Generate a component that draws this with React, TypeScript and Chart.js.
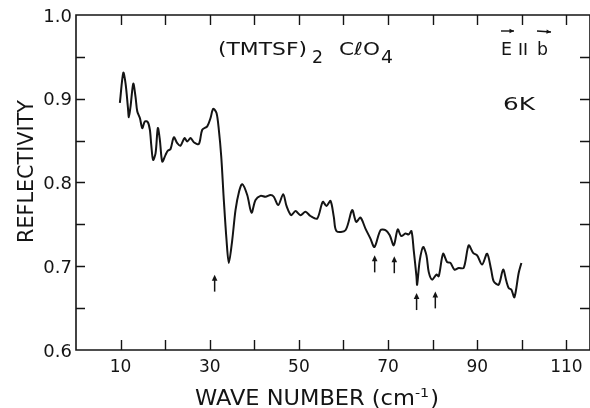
import React, { useEffect, useRef } from "react";
import { Chart, registerables } from "chart.js";

Chart.register(...registerables);

// Wave number (cm^-1)
const waveNumber = [
  9.84, 10.61, 11.12, 11.64, 11.86, 12.24, 12.85, 13.36, 13.74, 14.33,
  14.87, 15.45, 16.12, 16.57, 16.88, 17.29, 17.85, 18.36, 18.81, 19.35,
  20.09, 20.61, 21.21, 21.95, 22.71, 23.45, 24.35, 24.96, 25.7, 26.43,
  27.56, 28.32, 29.44, 30.18, 30.78, 31.52, 32.04, 32.58, 33.16, 33.77,
  34.28, 35.04, 35.78, 36.57, 37.29, 38.41, 39.37, 40.27, 41.39, 42.51,
  43.63, 44.37, 45.36, 46.48, 47.22, 48.27, 49.24, 50.36, 51.48, 52.6,
  54.1, 55.36, 56.19, 57.09, 57.83, 58.43, 60.45, 61.95, 62.85, 63.81,
  64.93, 66.05, 66.95, 68.3, 69.42, 70.38, 71.28, 72.17, 72.94, 73.9,
  74.64, 75.25, 75.76, 76.37, 76.52, 77.11, 77.87, 78.61, 79.13, 79.89,
  80.85, 81.37, 82.35, 83.25, 83.99, 84.89, 85.85, 86.97, 88.09, 89.08,
  89.98, 91.1, 92.22, 93.12, 93.7, 94.82, 95.81, 96.55, 97.06, 97.67,
  98.34, 99.3, 99.91,
];

// Reflectivity
const reflectivity = [
  0.895, 0.931, 0.918, 0.89, 0.878, 0.891, 0.918, 0.902, 0.885, 0.877,
  0.865, 0.873, 0.872, 0.863, 0.845, 0.827, 0.835, 0.865, 0.851, 0.825,
  0.833, 0.838, 0.84, 0.854, 0.847, 0.844, 0.853, 0.849, 0.853, 0.848,
  0.846, 0.863, 0.867, 0.877, 0.888, 0.883, 0.863, 0.831, 0.779, 0.731,
  0.704, 0.731, 0.767, 0.789, 0.798, 0.785, 0.764, 0.779, 0.784, 0.783,
  0.785, 0.783, 0.773, 0.786, 0.772, 0.761, 0.766, 0.761, 0.765, 0.76,
  0.757, 0.777, 0.772, 0.778, 0.759, 0.742, 0.743, 0.767, 0.753, 0.758,
  0.745, 0.733, 0.723, 0.743, 0.743, 0.737, 0.725, 0.744, 0.736, 0.739,
  0.738, 0.742, 0.719, 0.688, 0.678, 0.707, 0.723, 0.713, 0.693, 0.684,
  0.69, 0.688, 0.715, 0.705, 0.704, 0.696, 0.698, 0.698, 0.725, 0.716,
  0.713, 0.702, 0.715, 0.696, 0.682, 0.678, 0.696, 0.682, 0.674, 0.672,
  0.663, 0.692, 0.704,
];

// Arrow markers (wave number, reflectivity at arrow tip)
const arrowWaveNumber = [31.1, 67.0, 71.4, 76.4, 80.6];
const arrowTip = [0.69, 0.713, 0.712, 0.668, 0.67];

// Axis ticks
const xTickLabels = [10, 30, 50, 70, 90, 110];
const xTickMarks = [10, 20, 30, 40, 50, 60, 70, 80, 90, 100, 110];
const yTickLabels = ["0.6", "0.7", "0.8", "0.9", "1.0"];
const yTickMarks = [0.65, 0.7, 0.75, 0.8, 0.85, 0.9, 0.95];

const xTitle = "WAVE NUMBER (cm";
const xTitleSup = "-1";
const yTitle = "REFLECTIVITY";

const FONT = "'DejaVu Sans', sans-serif";
const INK = "#141414";

type Run = { t: string; size: number; dy?: number; dx?: number };

function drawRuns(ctx: CanvasRenderingContext2D, runs: Run[], x: number, y: number, width: number) {
  let natural = 0;
  const widths: number[] = [];
  for (const r of runs) {
    ctx.font = `${r.size}px ${FONT}`;
    const w = ctx.measureText(r.t).width + (r.dx || 0);
    widths.push(w);
    natural += w;
  }
  const s = width / natural;
  ctx.save();
  ctx.translate(x, y);
  ctx.scale(s, 1);
  let cx = 0;
  runs.forEach((r, i) => {
    ctx.font = `${r.size}px ${FONT}`;
    ctx.textAlign = "left";
    ctx.textBaseline = "alphabetic";
    ctx.fillText(r.t, cx + (r.dx || 0), r.dy || 0);
    cx += widths[i];
  });
  ctx.restore();
}

function drawVecArrow(ctx: CanvasRenderingContext2D, x1: number, y1: number, x2: number, y2: number) {
  ctx.beginPath();
  ctx.moveTo(x1, y1);
  ctx.lineTo(x2, y2);
  ctx.stroke();
  const a = Math.atan2(y2 - y1, x2 - x1);
  ctx.beginPath();
  ctx.moveTo(x2, y2);
  ctx.lineTo(x2 - 5 * Math.cos(a - 0.45), y2 - 5 * Math.sin(a - 0.45));
  ctx.lineTo(x2 - 5 * Math.cos(a + 0.45), y2 - 5 * Math.sin(a + 0.45));
  ctx.closePath();
  ctx.fill();
}

const decorPlugin = {
  id: "decor",
  afterDraw(chart: any) {
    const ctx: CanvasRenderingContext2D = chart.ctx;
    const xs = chart.scales.x;
    const ys = chart.scales.y;
    const { left, right, top, bottom } = chart.chartArea;
    ctx.save();
    ctx.strokeStyle = INK;
    ctx.fillStyle = INK;

    // frame
    ctx.lineWidth = 1.6;
    ctx.beginPath();
    ctx.moveTo(left, top);
    ctx.lineTo(right, top);
    ctx.lineTo(right, bottom);
    ctx.lineTo(left, bottom);
    ctx.closePath();
    ctx.stroke();

    // tick marks (inward)
    ctx.lineWidth = 1.4;
    ctx.beginPath();
    for (const v of xTickMarks) {
      const px = Math.round(xs.getPixelForValue(v)) + 0.5;
      ctx.moveTo(px, bottom);
      ctx.lineTo(px, bottom - 10);
      ctx.moveTo(px, top);
      ctx.lineTo(px, top + 10);
    }
    for (const v of yTickMarks) {
      const py = Math.round(ys.getPixelForValue(v)) + 0.5;
      ctx.moveTo(left, py);
      ctx.lineTo(left + 9, py);
      ctx.moveTo(right, py);
      ctx.lineTo(right - 10, py);
    }
    ctx.stroke();

    // tick labels
    ctx.font = `17px ${FONT}`;
    ctx.textAlign = "center";
    ctx.textBaseline = "alphabetic";
    for (const v of xTickLabels) {
      ctx.fillText(String(v), xs.getPixelForValue(v), 372);
    }
    ctx.font = `18px ${FONT}`;
    ctx.textAlign = "right";
    for (const t of yTickLabels) {
      const py = ys.getPixelForValue(parseFloat(t));
      ctx.fillText(t, 72, py + 6.5);
    }

    // axis titles
    drawRuns(ctx, [
      { t: xTitle, size: 20.5 },
      { t: xTitleSup, size: 13, dy: -8 },
      { t: ")", size: 20.5, dx: 1 },
    ], 195, 405, 244);

    ctx.save();
    ctx.translate(33, 243);
    ctx.rotate(-Math.PI / 2);
    drawRuns(ctx, [{ t: yTitle, size: 20.5 }], 0, 0, 143);
    ctx.restore();

    // annotations
    drawRuns(ctx, [{ t: "(TMTSF)", size: 18 }], 218, 55, 89);
    drawRuns(ctx, [{ t: "2", size: 18 }], 312, 63, 11);
    drawRuns(ctx, [{ t: "CℓO", size: 18 }], 339, 55, 41);
    drawRuns(ctx, [{ t: "4", size: 18 }], 381, 63, 12);

    drawRuns(ctx, [{ t: "E", size: 18 }], 501, 55, 11);
    drawRuns(ctx, [{ t: "b", size: 18 }], 537, 55, 11);
    ctx.lineWidth = 1.7;
    ctx.beginPath();
    ctx.moveTo(520.5, 43);
    ctx.lineTo(520.5, 55);
    ctx.moveTo(525.5, 43);
    ctx.lineTo(525.5, 55);
    ctx.stroke();
    ctx.lineWidth = 1.4;
    drawVecArrow(ctx, 501, 31, 514, 31);
    drawVecArrow(ctx, 537, 31, 551, 32);

    drawRuns(ctx, [{ t: "6K", size: 18 }], 503, 110, 32);

    // arrows under features
    ctx.lineWidth = 1.5;
    arrowWaveNumber.forEach((w, i) => {
      const px = xs.getPixelForValue(w);
      const tip = ys.getPixelForValue(arrowTip[i]);
      ctx.beginPath();
      ctx.moveTo(px, tip + 3);
      ctx.lineTo(px, tip + 17);
      ctx.stroke();
      ctx.beginPath();
      ctx.moveTo(px, tip);
      ctx.lineTo(px - 2.8, tip + 6);
      ctx.lineTo(px + 2.8, tip + 6);
      ctx.closePath();
      ctx.fill();
    });

    ctx.restore();
  },
};

export default function App() {
  const ref = useRef<HTMLCanvasElement | null>(null);

  useEffect(() => {
    if (!ref.current) return;
    const points = waveNumber.map((x, i) => ({ x, y: reflectivity[i] }));
    const chart = new Chart(ref.current, {
      type: "line",
      data: {
        datasets: [
          {
            data: points,
            borderColor: INK,
            borderWidth: 2,
            pointRadius: 0,
            tension: 0.3,
            fill: false,
          },
        ],
      },
      options: {
        responsive: false,
        animation: false,
        layout: { padding: { left: 76, top: 15, right: 0, bottom: 58 } },
        plugins: { legend: { display: false }, tooltip: { enabled: false } },
        scales: {
          x: { type: "linear", min: 0, max: 115.3, display: false },
          y: { type: "linear", min: 0.6, max: 1.0, display: false },
        },
      },
      plugins: [decorPlugin],
    });
    return () => chart.destroy();
  }, []);

  return (
    <div style={{ position: "absolute", left: 0, top: 0, width: 590, height: 408, background: "#fff" }}>
      <canvas ref={ref} width={590} height={408} style={{ display: "block" }} />
    </div>
  );
}
